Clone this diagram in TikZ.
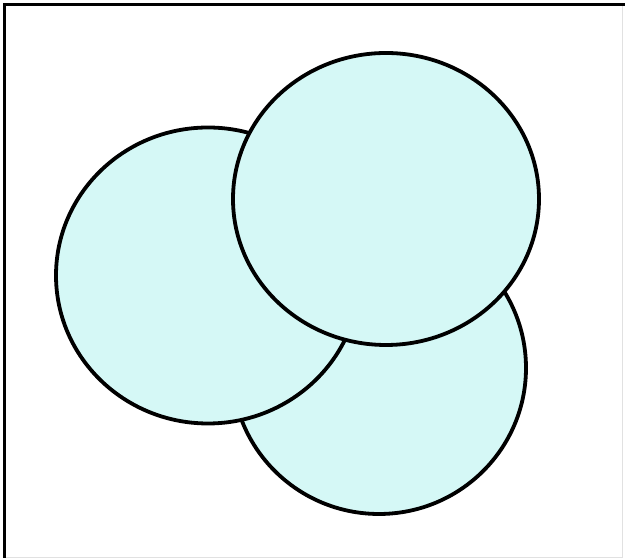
\documentclass[tikz,border=0pt]{standalone}
\definecolor{discfill}{RGB}{213,248,246}
\definecolor{faintedge}{RGB}{225,225,225}
\tikzset{
  disc/.style={draw=black, line width=3.8pt, fill=discfill},
  frameline/.style={draw=black, line width=3pt},
}
\begin{document}
\begin{tikzpicture}[x=1pt,y=1pt]
\useasboundingbox (0,0) rectangle (625,559);
\fill[white] (0,0) rectangle (625,559);
% frame
\draw[faintedge, line width=1pt] (622,554) -- (622,1) -- (4,1);
\draw[frameline] (4,1) -- (4,554) -- (625,554);
% bottom circle
\draw[disc] (379,191) ellipse [x radius=147, y radius=146];
% left circle
\draw[disc] (208,283.5) ellipse [x radius=152, y radius=148];
% top circle
\draw[disc] (386,360) ellipse [x radius=153, y radius=146];
\end{tikzpicture}
\end{document}
